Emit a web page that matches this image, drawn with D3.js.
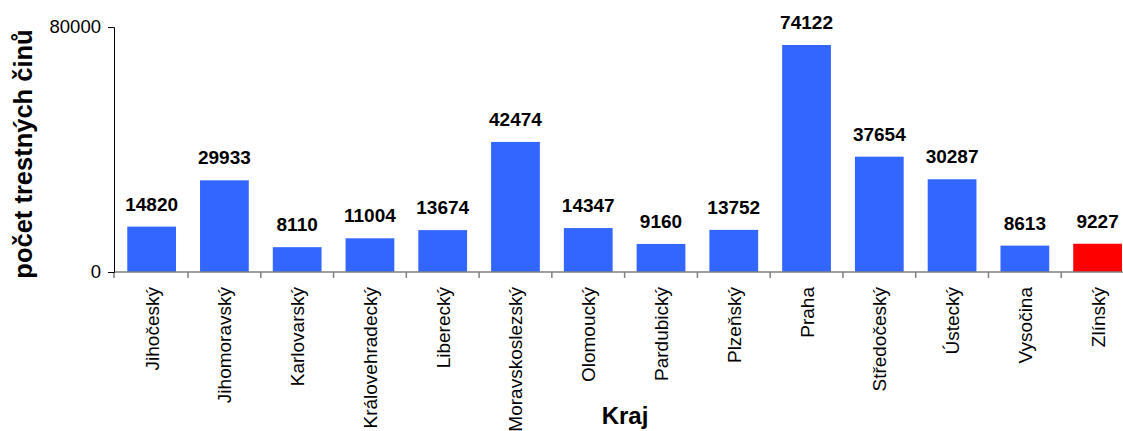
<!DOCTYPE html>
<html lang="cs">
<head>
<meta charset="UTF-8">
<title>Trestné činy podle krajů</title>
<style>
  body { margin: 0; background: #fff; overflow: hidden; }
  svg { font-family: "Liberation Sans", Arial, sans-serif; }
</style>
</head>
<body>
<div id="chart"></div>
<script src="https://cdn.jsdelivr.net/npm/d3@7/dist/d3.min.js"></script>
<script>
const regions = ["Jihočeský", "Jihomoravský", "Karlovarský", "Královehradecký", "Liberecký",
    "Moravskoslezský", "Olomoucký", "Pardubický", "Plzeňský", "Praha",
    "Středočeský", "Ústecký", "Vysočina", "Zlínský"];
const crimes = [14820, 29933, 8110, 11004, 13674, 42474, 14347, 9160, 13752, 74122,
    37654, 30287, 8613, 9227];
const highlighted = ["Zlínský"];
const yTicks = [0, 80000];

const width = 1123, height = 431;

const svg = d3.select("#chart")
    .append("svg")
    .attr("width", width)
    .attr("height", height);

// band range runs a bit past the window, like the original
const x = d3.scaleBand()
    .domain(regions)
    .range([115.25, 1134])
    .paddingInner(0.33)
    .paddingOuter(0.165);

const y = d3.scaleLinear()
    .domain([0, 80000])
    .range([272, 27]);

// bars
svg.selectAll("rect.bar")
    .data(regions)
    .join("rect")
    .classed("bar", true)
    .attr("x", (d) => x(d))
    .attr("width", x.bandwidth())
    .attr("y", (d, i) => y(crimes[i]))
    .attr("height", (d, i) => y(0) - y(crimes[i]))
    .attr("fill", (d) => highlighted.includes(d) ? "#ff0000" : "#3366ff");

// value labels
svg.selectAll("text.value")
    .data(regions)
    .join("text")
    .classed("value", true)
    .attr("x", (d) => x(d) + x.bandwidth() / 2)
    .attr("y", (d, i) => y(crimes[i]) - 16)
    .attr("text-anchor", "middle")
    .attr("font-size", 19)
    .attr("font-weight", "bold")
    .text((d, i) => crimes[i]);

// x axis: gray baseline, ticks between categories
const step = x.step();
const bounds = regions.slice(1).map((d) => x(d) - (step - x.bandwidth()) / 2);
svg.append("line")
    .attr("x1", 114).attr("x2", width)
    .attr("y1", y(0)).attr("y2", y(0))
    .attr("stroke", "#808080").attr("stroke-width", 1.5);
svg.selectAll("line.xtick")
    .data([114].concat(bounds))
    .join("line")
    .classed("xtick", true)
    .attr("x1", (d) => d).attr("x2", (d) => d)
    .attr("y1", y(0)).attr("y2", y(0) + 6)
    .attr("stroke", "#808080").attr("stroke-width", 1.5);

svg.selectAll("text.cat")
    .data(regions)
    .join("text")
    .classed("cat", true)
    .attr("transform", (d) => `translate(${x(d) + x.bandwidth() / 2 + 7}, 287) rotate(-90)`)
    .attr("text-anchor", "end")
    .attr("font-size", 19)
    .text((d) => d);

// y axis
const yAxis = d3.axisLeft(y)
    .tickValues(yTicks)
    .tickSize(6)
    .tickPadding(7)
    .tickFormat(d3.format("d"));
const gy = svg.append("g")
    .attr("transform", "translate(114,0)")
    .call(yAxis);
gy.select(".domain").attr("stroke", "#000");
gy.selectAll("text").attr("font-size", 18.5).attr("font-family", "Liberation Sans, Arial, sans-serif").attr("fill", "#000");

// titles
svg.append("text")
    .attr("transform", "translate(32,154) rotate(-90)")
    .attr("text-anchor", "middle")
    .attr("font-size", 25.5)
    .attr("font-weight", "bold")
    .text("počet trestných činů");

svg.append("text")
    .attr("x", 625)
    .attr("y", 424)
    .attr("text-anchor", "middle")
    .attr("font-size", 24)
    .attr("font-weight", "bold")
    .text("Kraj");
</script>
</body>
</html>
